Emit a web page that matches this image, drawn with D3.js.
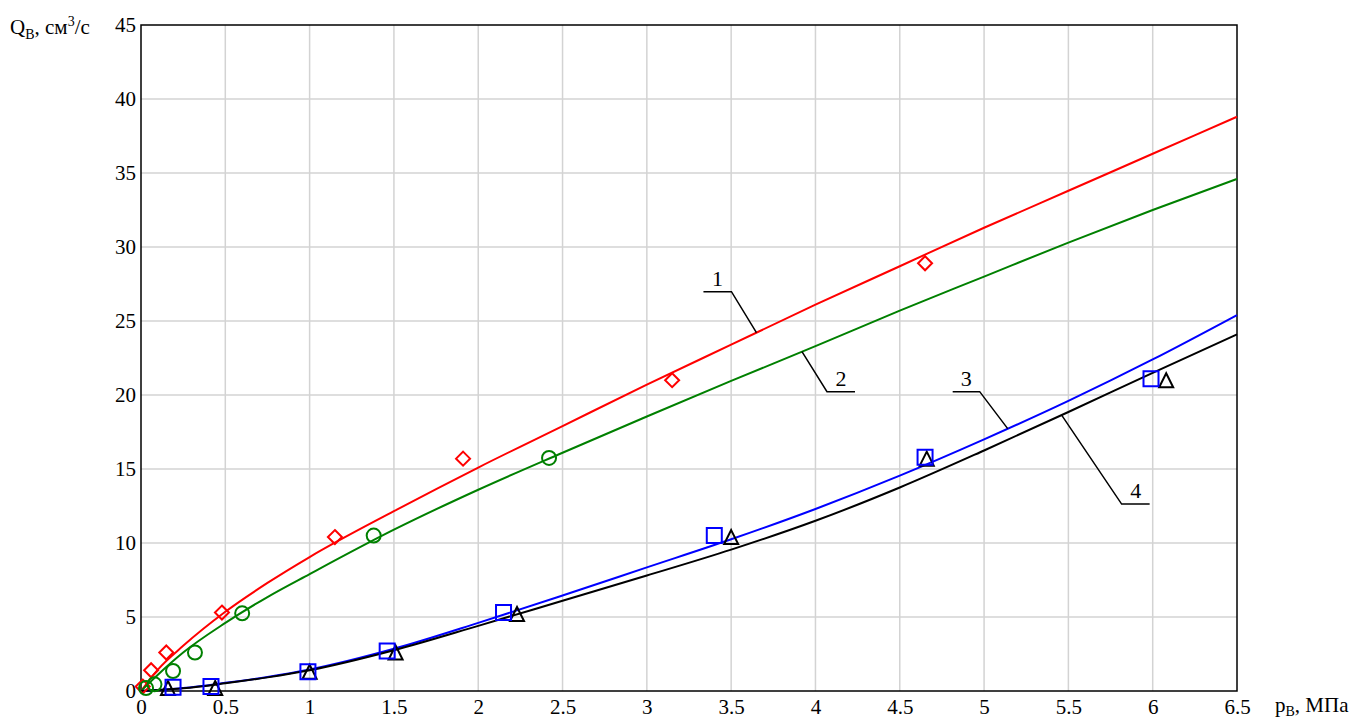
<!DOCTYPE html>
<html>
<head>
<meta charset="utf-8">
<script src="https://cdn.jsdelivr.net/npm/d3@7"></script>
<style>
  body { margin: 0; background: #fff; }
  text { font-family: "Liberation Serif", "Times New Roman", "DejaVu Serif", serif; fill: #000; }
</style>
</head>
<body>
<svg width="1354" height="722"></svg>
<script>
// Кривые (расчёт)
const curveP = [0, 0.1, 0.25, 0.5, 0.75, 1, 1.5, 2, 2.5, 3, 3.5, 4, 4.5, 5, 5.5, 6, 6.5];
const curve1 = [0, 1.45, 3.05, 5.35, 7.3, 9.05, 12.15, 15.1, 17.9, 20.7, 23.4, 26.1, 28.7, 31.3, 33.8, 36.3, 38.8];
const curve2 = [0, 1.1, 2.6, 4.6, 6.35, 7.9, 10.9, 13.6, 16.1, 18.55, 20.95, 23.3, 25.7, 28.0, 30.3, 32.5, 34.6];
const curve3 = [0, 0.07, 0.2, 0.55, 0.95, 1.45, 2.85, 4.6, 6.45, 8.35, 10.25, 12.3, 14.55, 17.0, 19.6, 22.4, 25.4];
const curve4 = [0, 0.06, 0.18, 0.52, 0.92, 1.4, 2.75, 4.4, 6.1, 7.8, 9.55, 11.5, 13.75, 16.25, 18.85, 21.5, 24.1];

// Эксперимент
const exp1P = [0.01, 0.06, 0.15, 0.48, 1.15, 1.91, 3.15, 4.65];
const exp1Q = [0.3, 1.4, 2.6, 5.3, 10.4, 15.7, 21.0, 28.9];
const exp2P = [0.03, 0.08, 0.19, 0.32, 0.6, 1.38, 2.42];
const exp2Q = [0.2, 0.45, 1.35, 2.6, 5.25, 10.5, 15.75];
const exp3P = [0.19, 0.415, 0.99, 1.46, 2.15, 3.4, 4.65, 5.99];
const exp3Q = [0.25, 0.3, 1.3, 2.7, 5.3, 10.5, 15.8, 21.1];
const exp4P = [0.16, 0.44, 1.0, 1.51, 2.23, 3.5, 4.66, 6.08];
const exp4Q = [0.2, 0.2, 1.3, 2.6, 5.2, 10.4, 15.7, 21.0];

const xTicks = [0, 0.5, 1, 1.5, 2, 2.5, 3, 3.5, 4, 4.5, 5, 5.5, 6, 6.5];
const yTicks = [0, 5, 10, 15, 20, 25, 30, 35, 40, 45];

// Выноски: номер кривой и точка на кривой (p)
const labelNames = ["1", "2", "3", "4"];
const labelCurveP = [3.65, 3.92, 5.14, 5.46];

const margin = {left: 141, top: 25};
const width = 1237 - margin.left;
const height = 691 - margin.top;

const svg = d3.select("svg");
const g = svg.append("g").attr("transform", `translate(${margin.left},${margin.top})`);

const x = d3.scaleLinear().domain([0, 6.5]).range([0, width]);
const y = d3.scaleLinear().domain([0, 45]).range([height, 0]);

// Сетка
g.append("g")
    .selectAll("line")
    .data(xTicks.slice(1, -1))
    .enter().append("line")
    .attr("x1", d => x(d)).attr("x2", d => x(d))
    .attr("y1", 0).attr("y2", height)
    .attr("stroke", "#d3d3d3").attr("stroke-width", 1.5);
g.append("g")
    .selectAll("line")
    .data(yTicks.slice(1, -1))
    .enter().append("line")
    .attr("y1", d => y(d)).attr("y2", d => y(d))
    .attr("x1", 0).attr("x2", width)
    .attr("stroke", "#d3d3d3").attr("stroke-width", 1.5);

// Рамка
g.append("rect")
    .attr("width", width).attr("height", height)
    .attr("fill", "none").attr("stroke", "#000").attr("stroke-width", 1.5);

// Подписи осей
const xAxis = d3.axisBottom(x).tickValues(xTicks).tickSize(0).tickPadding(8)
    .tickFormat(d => d);
g.append("g").attr("transform", `translate(0,${height})`).call(xAxis)
    .attr("font-family", null)
    .call(a => a.select(".domain").remove())
    .selectAll("text").style("font-size", "21px");

const yAxis = d3.axisLeft(y).tickValues(yTicks).tickSize(0).tickPadding(5);
g.append("g").call(yAxis)
    .attr("font-family", null)
    .call(a => a.select(".domain").remove())
    .selectAll("text").style("font-size", "21px");

// Кривые
const series = [
    {q: curve1, color: "#ff0000"},
    {q: curve2, color: "#008000"},
    {q: curve3, color: "#0000ff"},
    {q: curve4, color: "#000000"}
];
const line = d3.line()
    .x(d => x(d[0]))
    .y(d => y(d[1]))
    .curve(d3.curveMonotoneX);

series.forEach(s => {
    g.append("path")
        .datum(curveP.map((p, i) => [p, s.q[i]]))
        .attr("d", line)
        .attr("fill", "none")
        .attr("stroke", s.color)
        .attr("stroke-width", 2);
});

// Маркеры
function addMarkers(ps, qs, color, shape) {
    const sel = g.append("g").selectAll("path")
        .data(ps.map((p, i) => [p, qs[i]]))
        .enter().append("path")
        .attr("fill", "none")
        .attr("stroke", color)
        .attr("stroke-width", 2);
    if (shape === "diamond") {
        sel.attr("d", "M0,-7L7,0L0,7L-7,0Z");
    } else if (shape === "circle") {
        sel.attr("d", d3.symbol().type(d3.symbolCircle).size(Math.PI * 49)());
    } else if (shape === "square") {
        sel.attr("d", "M-7.5,-7.5H7.5V7.5H-7.5Z");
    } else {
        sel.attr("d", "M0,-7L7,7L-7,7Z");
    }
    sel.attr("transform", d => `translate(${x(d[0])},${y(d[1])})`);
}
addMarkers(exp1P, exp1Q, "#ff0000", "diamond");
addMarkers(exp2P, exp2Q, "#008000", "circle");
addMarkers(exp4P, exp4Q, "#000000", "triangle");
addMarkers(exp3P, exp3Q, "#0000ff", "square");

// Выноски
function curveAt(q, p) {
    const i = d3.bisectRight(curveP, p) - 1;
    const t = (p - curveP[i]) / (curveP[i + 1] - curveP[i]);
    return q[i] + t * (q[i + 1] - q[i]);
}
const leaders = [
    {dx: -25, dy: -41, shelf: -28},
    {dx: 25, dy: 40, shelf: 28},
    {dx: -28, dy: -37, shelf: -27},
    {dx: 60, dy: 89, shelf: 28}
];
leaders.forEach((l, i) => {
    const px = x(labelCurveP[i]);
    const py = y(curveAt(series[i].q, labelCurveP[i]));
    const kx = px + l.dx, ky = py + l.dy;
    g.append("path")
        .attr("d", `M${px},${py}L${kx},${ky}L${kx + l.shelf},${ky}`)
        .attr("fill", "none").attr("stroke", "#000").attr("stroke-width", 1.5);
    g.append("text")
        .attr("x", kx + l.shelf / 2)
        .attr("y", ky - 6)
        .attr("text-anchor", "middle")
        .style("font-size", "22px")
        .text(labelNames[i]);
});

// Названия осей
const yTitle = svg.append("text").attr("x", 10).attr("y", 34).style("font-size", "21px");
yTitle.append("tspan").text("Q");
yTitle.append("tspan").attr("dy", 5).style("font-size", "14px").text("В");
yTitle.append("tspan").attr("dy", -5).text(", см");
yTitle.append("tspan").attr("dy", -8).style("font-size", "14px").text("3");
yTitle.append("tspan").attr("dy", 8).text("/с");

const xTitle = svg.append("text").attr("x", 1275).attr("y", 712).style("font-size", "21px");
xTitle.append("tspan").text("p");
xTitle.append("tspan").attr("dy", 4).style("font-size", "14px").text("В");
xTitle.append("tspan").attr("dy", -4).text(", МПа");
</script>
</body>
</html>
